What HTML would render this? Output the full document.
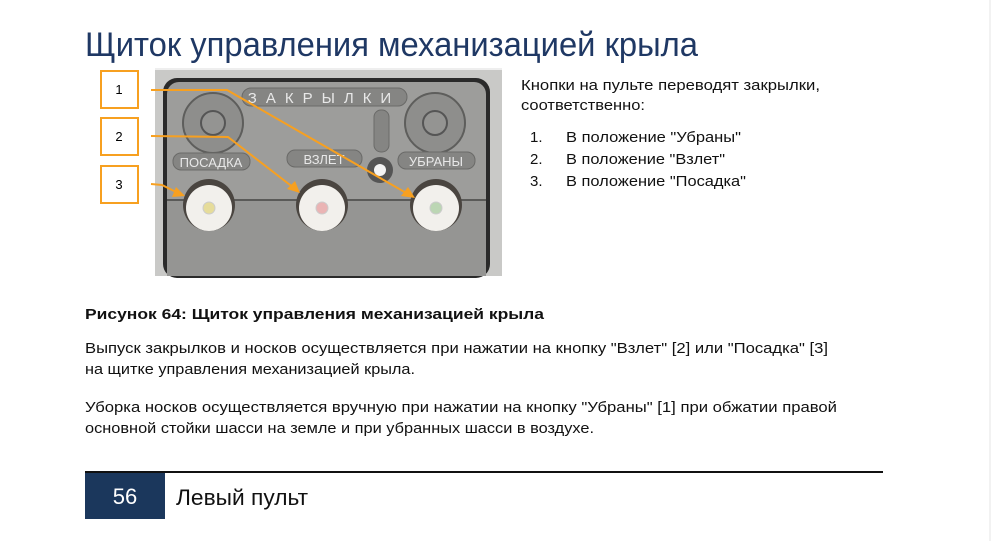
<!DOCTYPE html>
<html><head><meta charset="utf-8"><style>
html,body{margin:0;padding:0;background:#fff;width:1000px;height:541px;overflow:hidden}
text{font-family:"Liberation Sans",sans-serif}
</style></head><body>
<svg width="1000" height="541" viewBox="0 0 1000 541" xmlns="http://www.w3.org/2000/svg">
<rect width="1000" height="541" fill="#fff"/>
<line x1="990" y1="0" x2="990" y2="541" stroke="#e6e6e6"/>
<text x="85" y="56" font-size="34" fill="#1f3864" textLength="613" lengthAdjust="spacingAndGlyphs">Щиток управления механизацией крыла</text>
<line x1="155" y1="69" x2="502" y2="69" stroke="#ddd"/>
<!-- photo -->
<rect x="155" y="70" width="347" height="206" fill="#c9c9c7"/>
<rect x="163" y="78" width="327" height="200" rx="14" fill="#2a2a2a"/>
<rect x="167" y="82" width="319" height="194" rx="12" fill="#9d9d9b"/>
<rect x="167" y="200" width="319" height="76" fill="#959593"/>
<line x1="167" y1="200" x2="486" y2="200" stroke="#5a5a58" stroke-width="2"/>
<rect x="242" y="88" width="165" height="18" rx="9" fill="#858583" stroke="#6a6a68"/>
<text x="324" y="103" font-size="15" fill="#e8e8e8" text-anchor="middle" letter-spacing="9">ЗАКРЫЛКИ</text>
<circle cx="213" cy="123" r="30" fill="#8e8e8c" stroke="#5e5e5c" stroke-width="2"/>
<circle cx="213" cy="123" r="12" fill="#949492" stroke="#555" stroke-width="2"/>
<circle cx="435" cy="123" r="30" fill="#8e8e8c" stroke="#5e5e5c" stroke-width="2"/>
<circle cx="435" cy="123" r="12" fill="#949492" stroke="#555" stroke-width="2"/>
<rect x="374" y="110" width="15" height="42" rx="7" fill="#858583" stroke="#6a6a68"/>
<circle cx="380" cy="170" r="13" fill="#555"/><circle cx="380" cy="170" r="6" fill="#f4f4f4"/>
<rect x="173" y="153" width="77" height="17" rx="8" fill="#858583" stroke="#6a6a68"/>
<text x="211" y="167" font-size="13" fill="#e8e8e8" text-anchor="middle">ПОСАДКА</text>
<rect x="287" y="150" width="75" height="17" rx="8" fill="#858583" stroke="#6a6a68"/>
<text x="324" y="164" font-size="13" fill="#e8e8e8" text-anchor="middle">ВЗЛЕТ</text>
<rect x="398" y="152" width="77" height="17" rx="8" fill="#858583" stroke="#6a6a68"/>
<text x="436" y="166" font-size="13" fill="#e8e8e8" text-anchor="middle">УБРАНЫ</text>
<g>
<circle cx="209" cy="205" r="26" fill="#4a4540"/><circle cx="209" cy="208" r="23" fill="#f2f0ec"/><circle cx="209" cy="208" r="6" fill="#e6dc9a" stroke="#ccc"/>
<circle cx="322" cy="205" r="26" fill="#4a4540"/><circle cx="322" cy="208" r="23" fill="#f2f0ec"/><circle cx="322" cy="208" r="6" fill="#eab4b4" stroke="#ccc"/>
<circle cx="436" cy="205" r="26" fill="#4a4540"/><circle cx="436" cy="208" r="23" fill="#f2f0ec"/><circle cx="436" cy="208" r="6" fill="#bcd6b4" stroke="#ccc"/>
</g>
<!-- boxes -->
<g fill="#fff" stroke="#f7a020" stroke-width="2">
<rect x="101" y="71" width="37" height="37"/><rect x="101" y="118" width="37" height="37"/><rect x="101" y="166" width="37" height="37"/>
</g>
<g font-size="13" fill="#000" text-anchor="middle">
<text x="119" y="94">1</text><text x="119" y="141">2</text><text x="119" y="189">3</text>
</g>
<g stroke="#f7a020" stroke-width="2" fill="none">
<polyline points="151,90 227,90 408,194"/>
<polyline points="151,136 228,137 294,188"/>
<polyline points="151,184 162,185 178,193"/>
</g>
<g fill="#f7a020">
<polygon points="415,198 401,196 408,187"/>
<polygon points="300,193 287,189 295,181"/>
<polygon points="185,196 172,197 176,187"/>
</g>
<!-- right text -->
<g font-size="15" fill="#111">
<text x="521" y="90" textLength="299" lengthAdjust="spacingAndGlyphs">Кнопки на пульте переводят закрылки,</text>
<text x="521" y="110" textLength="124" lengthAdjust="spacingAndGlyphs">соответственно:</text>
<text x="530" y="142">1.</text><text x="566" y="142" textLength="175" lengthAdjust="spacingAndGlyphs">В положение "Убраны"</text>
<text x="530" y="164">2.</text><text x="566" y="164" textLength="159" lengthAdjust="spacingAndGlyphs">В положение "Взлет"</text>
<text x="530" y="186">3.</text><text x="566" y="186" textLength="180" lengthAdjust="spacingAndGlyphs">В положение "Посадка"</text>
<text x="85" y="319" font-weight="bold" textLength="459" lengthAdjust="spacingAndGlyphs">Рисунок 64: Щиток управления механизацией крыла</text>
<text x="85" y="353" textLength="743" lengthAdjust="spacingAndGlyphs">Выпуск закрылков и носков осуществляется при нажатии на кнопку "Взлет" [2] или "Посадка" [3]</text>
<text x="85" y="374" textLength="330" lengthAdjust="spacingAndGlyphs">на щитке управления механизацией крыла.</text>
<text x="85" y="412" textLength="752" lengthAdjust="spacingAndGlyphs">Уборка носков осуществляется вручную при нажатии на кнопку "Убраны" [1] при обжатии правой</text>
<text x="85" y="433" textLength="509" lengthAdjust="spacingAndGlyphs">основной стойки шасси на земле и при убранных шасси в воздухе.</text>
</g>
<!-- footer -->
<line x1="85" y1="472" x2="883" y2="472" stroke="#111" stroke-width="2"/>
<rect x="85" y="473" width="80" height="46" fill="#1b375c"/>
<text x="125" y="504" font-size="22" fill="#fff" text-anchor="middle">56</text>
<text x="176" y="505" font-size="22" fill="#111" textLength="132" lengthAdjust="spacingAndGlyphs">Левый пульт</text>
</svg>
</body></html>
